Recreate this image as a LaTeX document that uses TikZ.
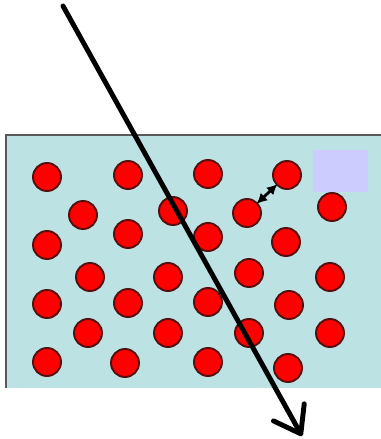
\documentclass[tikz,border=0pt]{standalone}
\usepackage{xcolor}
\usepackage{tikz}
\usetikzlibrary{positioning}
\usetikzlibrary{calc}
\usetikzlibrary{arrows.meta}

\definecolor{tank}{RGB}{188,226,228}
\definecolor{patch}{RGB}{204,204,255}
\definecolor{rimred}{RGB}{85,15,15}

\tikzset{
    atom/.style={circle,fill=red,draw=rimred,line width=1.1pt,minimum size=0.56cm,inner sep=0pt},
    ray/.style={line width=2.8pt,line cap=round,-{Straight Barb[length=14pt,width=20pt,round]}},
    gap/.style={line width=1.6pt,{Latex[length=6pt,width=6pt]}-{Latex[length=6pt,width=6pt]},shorten <=-1pt,shorten >=-1pt}
}

\begin{document}
\begin{tikzpicture}[x=0.02cm,y=-0.02cm]
    \useasboundingbox (0,0) rectangle (381,439);

    % medium
    \fill[tank] (6,135) rectangle (381,388);
    \draw[gray!70!black,line width=0.8pt] (6,388) -- (6,135) -- (381,135);
    \fill[patch] (313,150) rectangle (368,192);

    % atoms, row by row
    \foreach \name/\px/\py in {
        a1/47/177, a2/128/175, a3/208/174, a4/287/175,
        b1/83/215, b2/173/211, b3/247/213, b4/332/207,
        c1/47/245, c2/128/234, c3/208/237, c4/286/242,
        d1/90/277, d2/168/277, d3/249/273, d4/330/277,
        e1/47/304, e2/128/303, e3/208/302, e4/289/305,
        f1/88/333, f2/168/333, f3/249/333, f4/330/333,
        g1/47/362, g2/125/363, g3/208/362, g4/288/368}
        \node[atom] (\name) at (\px,\py) {};

    % spacing
    \draw[gap] (b3) -- (a4);

    % incoming beam
    \coordinate (src) at (63,6);
    \coordinate (dst) at (302,436);
    \draw[ray] (src) -- (dst);
\end{tikzpicture}
\end{document}
